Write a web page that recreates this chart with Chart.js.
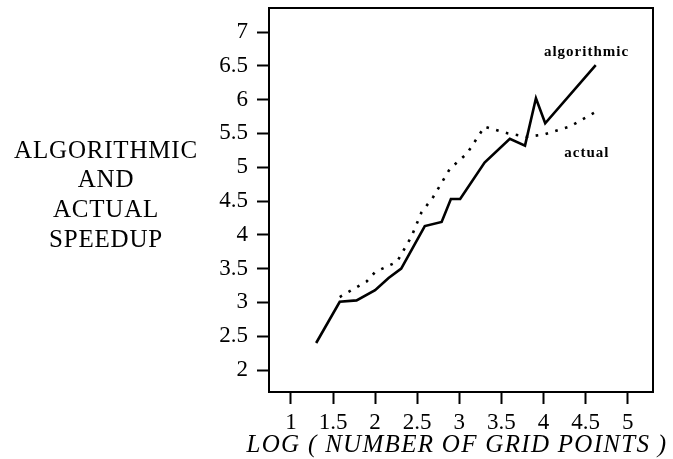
<!DOCTYPE html>
<html>
<head>
<meta charset="utf-8">
<script src="https://cdn.jsdelivr.net/npm/chart.js@4"></script>
<style>
  html, body { margin: 0; padding: 0; background: #fff; }
  canvas { display: block; }
</style>
</head>
<body>
<canvas id="speedup" width="673" height="459"></canvas>
<script>
// log10 of grid points vs speedup
const algorithmicX = [1.30, 1.58, 1.78, 2.00, 2.16, 2.31, 2.59, 2.79, 2.90, 3.01, 3.30, 3.60, 3.78, 3.91, 4.02, 4.62];
const algorithmicY = [2.40, 3.01, 3.03, 3.18, 3.36, 3.50, 4.13, 4.19, 4.53, 4.53, 5.07, 5.42, 5.32, 6.02, 5.65, 6.51];

const actualX = [1.58, 1.90, 2.00, 2.26, 2.43, 2.55, 2.69, 2.89, 3.09, 3.30, 3.58, 3.80, 3.99, 4.31, 4.62];
const actualY = [3.08, 3.31, 3.45, 3.60, 3.97, 4.33, 4.56, 4.98, 5.20, 5.60, 5.50, 5.45, 5.48, 5.60, 5.82];

const xTicks = [1, 1.5, 2, 2.5, 3, 3.5, 4, 4.5, 5];
const yTicks = [2, 2.5, 3, 3.5, 4, 4.5, 5, 5.5, 6, 6.5, 7];

const yTitleLines = ["ALGORITHMIC", "AND", "ACTUAL", "SPEEDUP"];
const xTitle = "LOG ( NUMBER OF GRID POINTS )";

const toPoints = (xs, ys) => xs.map((x, i) => ({ x: x, y: ys[i] }));

const serif = "'Liberation Serif', 'DejaVu Serif', serif";

// frame, titles and the two curve labels
const decorations = {
  id: "decorations",
  afterDraw(chart) {
    const ctx = chart.ctx;
    const area = chart.chartArea;
    const xs = chart.scales.x;
    const ys = chart.scales.y;
    ctx.save();
    ctx.strokeStyle = "#000";
    ctx.lineWidth = 2;
    ctx.strokeRect(area.left, area.top, area.right - area.left, area.bottom - area.top);

    ctx.fillStyle = "#000";
    ctx.textAlign = "center";
    ctx.textBaseline = "middle";
    ctx.letterSpacing = "0.8px";
    ctx.font = "25px " + serif;
    yTitleLines.forEach((line, i) => {
      ctx.fillText(line, 106, 151 + i * 29.8);
    });

    ctx.letterSpacing = "1.3px";
    ctx.font = "italic 25px " + serif;
    ctx.fillText(xTitle, 457, 445);

    ctx.letterSpacing = "1px";
    ctx.font = "bold 15px " + serif;
    ctx.fillText("algorithmic", xs.getPixelForValue(4.51), ys.getPixelForValue(6.70));
    ctx.fillText("actual", xs.getPixelForValue(4.515), ys.getPixelForValue(5.21));
    ctx.restore();
  }
};

// keep the plot box exactly where the axes put it
function zeroPadding(scale) {
  scale.paddingTop = 0;
  scale.paddingBottom = 0;
  scale.paddingLeft = 0;
  scale.paddingRight = 0;
}

new Chart(document.getElementById("speedup"), {
  type: "scatter",
  data: {
    datasets: [
      {
        label: "algorithmic",
        data: toPoints(algorithmicX, algorithmicY),
        showLine: true,
        borderColor: "#000",
        borderWidth: 2.6,
        pointRadius: 0,
        tension: 0
      },
      {
        label: "actual",
        data: toPoints(actualX, actualY),
        showLine: true,
        borderColor: "#000",
        borderWidth: 2.6,
        borderDash: [2.6, 7.5],
        pointRadius: 0,
        tension: 0
      }
    ]
  },
  options: {
    responsive: false,
    animation: false,
    layout: { padding: { left: 0, top: 8, right: 20, bottom: 0 } },
    plugins: {
      legend: { display: false },
      tooltip: { enabled: false }
    },
    scales: {
      x: {
        type: "linear",
        min: 0.74,
        max: 5.30,
        afterBuildTicks: (scale) => { scale.ticks = xTicks.map(v => ({ value: v })); },
        afterFit: (scale) => { scale.height = 67; zeroPadding(scale); },
        border: { display: false },
        grid: { drawOnChartArea: false, drawTicks: true, tickLength: 12, tickWidth: 2, tickColor: "#000" },
        ticks: {
          color: "#000", padding: 5, maxRotation: 0, autoSkip: false,
          font: { family: serif, size: 23 },
          callback: (v) => String(v)
        }
      },
      y: {
        type: "linear",
        min: 1.675,
        max: 7.355,
        afterBuildTicks: (scale) => { scale.ticks = yTicks.map(v => ({ value: v })); },
        afterFit: (scale) => { scale.width = 269; zeroPadding(scale); },
        border: { display: false },
        grid: { drawOnChartArea: false, drawTicks: true, tickLength: 12, tickWidth: 2, tickColor: "#000" },
        ticks: {
          color: "#000", padding: 9, autoSkip: false,
          font: { family: serif, size: 23 },
          callback: (v) => String(v)
        }
      }
    }
  },
  plugins: [decorations]
});
</script>
</body>
</html>
